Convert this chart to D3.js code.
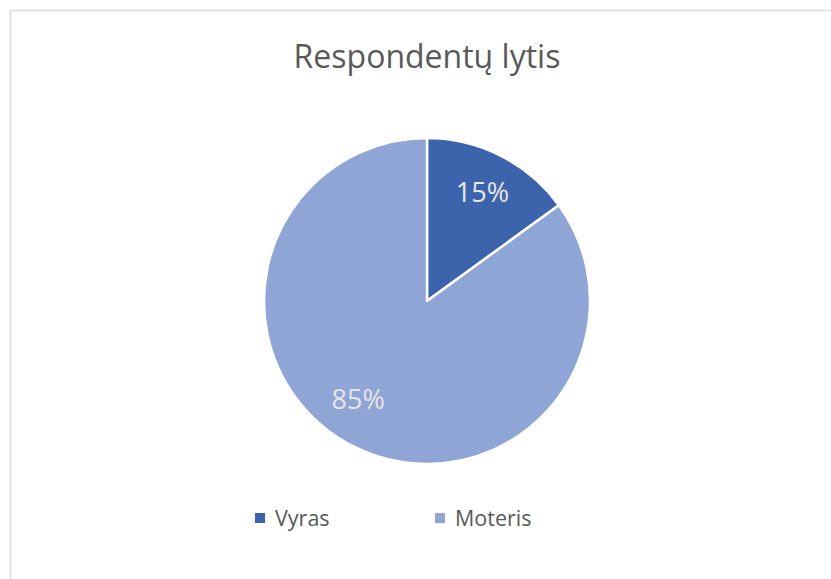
<!DOCTYPE html>
<html><head><meta charset="utf-8">
<script src="https://cdn.jsdelivr.net/npm/d3@7/dist/d3.min.js"></script>
<style>body{margin:0;background:#fff}svg{display:block}</style>
</head><body>
<svg id="c" width="831" height="579"></svg>
<script>
const categories = ["Vyras", "Moteris"];
const values = [15, 85];
const labels = ["15%", "85%"];
const colors = ["#3C64AC", "#8FA5D5"];
const title = "Respondentų lytis";

const svg = d3.select("#c");
const font = "'Open Sans', 'Liberation Sans', sans-serif";
svg.append("rect").attr("x",10.5).attr("y",10.5).attr("width",830).attr("height",580)
  .attr("fill","#fff").attr("stroke","#d9d9d9").attr("stroke-width",1.5);

svg.append("text").attr("x",427).attr("y",68).attr("text-anchor","middle")
  .attr("font-family",font).attr("font-size",32).attr("fill","#595959").text(title);

const cx=427, cy=301, R=163;
const pie = d3.pie().sort(null)(values);
const arc = d3.arc().innerRadius(0).outerRadius(R);
const labelArc = d3.arc().innerRadius(122).outerRadius(122);
const g = svg.append("g").attr("transform",`translate(${cx},${cy})`);
g.selectAll("path").data(pie).join("path").attr("d",arc)
  .attr("fill",(d,i)=>colors[i]).attr("stroke","#fff").attr("stroke-width",2.5).attr("stroke-linejoin","round");
g.selectAll("text").data(pie).join("text")
  .attr("transform",(d,i)=>{const c=labelArc.centroid(d); if(i===1){c[0]-=13.5;c[1]-=10.5;} return `translate(${c})`;})
  .attr("text-anchor","middle").attr("dy","0.36em")
  .attr("font-family",font).attr("font-size",27).attr("fill","#e6e6e6")
  .text((d,i)=>labels[i]);

const legX = d3.scalePoint().domain(categories).range([255,435]);
const lg = svg.append("g");
categories.forEach((c,i)=>{
  lg.append("rect").attr("x",legX(c)).attr("y",513).attr("width",10).attr("height",10).attr("fill",colors[i]);
  lg.append("text").attr("x",legX(c)+20).attr("y",526).attr("font-family",font).attr("font-size",21.5)
    .attr("fill","#595959").text(c);
});
</script>
</body></html>
